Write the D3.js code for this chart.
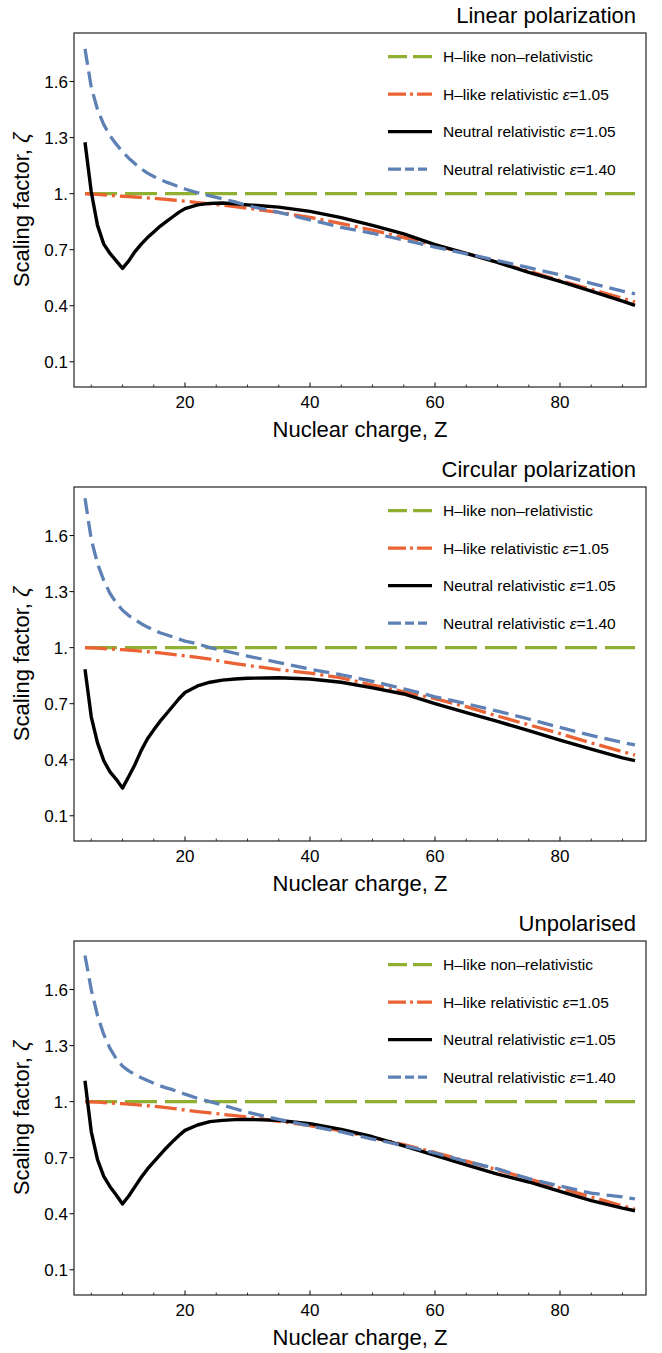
<!DOCTYPE html>
<html>
<head>
<meta charset="utf-8">
<script src="https://cdn.jsdelivr.net/npm/d3@7"></script>
<style>
  body { margin: 0; background: #fff; }
  text { font-family: "Liberation Sans", Arial, sans-serif; fill: #000; }
</style>
</head>
<body>
<div id="chart"></div>
<script>
// nuclear charge grid shared by every curve
var zGrid = [4,5,6,7,8,9,10,11,12,13,14,15,16,17,18,19,20,22,24,26,28,30,35,40,45,50,55,60,65,70,75,80,85,90,92];

var xTicks = [20,40,60,80];
var xMinorTicks = [5,10,15,25,30,35,45,50,55,65,70,75,85,90];
var yTicks = [0.1,0.4,0.7,1.0,1.3,1.6];
var yTickLabels = ["0.1","0.4","0.7","1.","1.3","1.6"];

var panelTitles = ["Linear polarization","Circular polarization","Unpolarised"];

// H-like non-relativistic (same in each panel)
var hlikeNonRel = [1,1,1,1,1,1,1,1,1,1,1,1,1,1,1,1,1,1,1,1,1,1,1,1,1,1,1,1,1,1,1,1,1,1,1];

// linear polarization
var linHlikeRel = [1.0,0.998,0.996,0.994,0.991,0.988,0.986,0.984,0.982,0.98,0.977,0.975,0.972,0.969,0.966,0.963,0.96,0.952,0.945,0.938,0.93,0.922,0.9,0.873,0.84,0.805,0.765,0.724,0.68,0.632,0.585,0.535,0.488,0.44,0.42];
var linNeutral105 = [1.275,1.01,0.83,0.73,0.68,0.64,0.60,0.64,0.69,0.73,0.765,0.795,0.825,0.85,0.875,0.9,0.92,0.94,0.948,0.95,0.945,0.94,0.928,0.905,0.872,0.83,0.785,0.727,0.68,0.632,0.578,0.53,0.478,0.425,0.402];
var linNeutral140 = [1.775,1.57,1.45,1.37,1.31,1.265,1.225,1.19,1.16,1.133,1.11,1.092,1.075,1.062,1.05,1.037,1.025,1.005,0.988,0.972,0.956,0.935,0.9,0.86,0.82,0.788,0.752,0.714,0.678,0.642,0.604,0.565,0.52,0.478,0.464];

// circular polarization
var circHlikeRel = [1.0,0.999,0.997,0.995,0.993,0.991,0.989,0.987,0.984,0.981,0.978,0.975,0.972,0.968,0.964,0.96,0.956,0.948,0.938,0.926,0.915,0.905,0.882,0.864,0.838,0.8,0.764,0.727,0.684,0.634,0.587,0.54,0.49,0.443,0.425];
var circNeutral105 = [0.884,0.63,0.49,0.395,0.335,0.295,0.248,0.31,0.375,0.45,0.512,0.56,0.605,0.645,0.685,0.725,0.76,0.795,0.815,0.826,0.832,0.836,0.839,0.832,0.815,0.785,0.752,0.7,0.652,0.605,0.556,0.505,0.457,0.41,0.395];
var circNeutral140 = [1.8,1.58,1.45,1.36,1.29,1.24,1.2,1.172,1.15,1.128,1.11,1.095,1.08,1.069,1.058,1.046,1.035,1.02,1.0,0.985,0.97,0.955,0.92,0.885,0.855,0.82,0.78,0.737,0.7,0.66,0.618,0.573,0.53,0.492,0.479];

// unpolarised
var unpHlikeRel = [1.0,0.999,0.997,0.995,0.993,0.991,0.989,0.987,0.984,0.981,0.978,0.975,0.972,0.968,0.964,0.96,0.955,0.947,0.94,0.932,0.925,0.918,0.895,0.872,0.843,0.808,0.77,0.728,0.682,0.635,0.587,0.538,0.49,0.442,0.424];
var unpNeutral105 = [1.112,0.84,0.69,0.6,0.545,0.5,0.452,0.495,0.545,0.595,0.64,0.678,0.715,0.752,0.786,0.818,0.846,0.875,0.893,0.9,0.904,0.905,0.9,0.882,0.852,0.812,0.763,0.713,0.662,0.612,0.57,0.52,0.47,0.43,0.416];
var unpNeutral140 = [1.782,1.6,1.46,1.36,1.285,1.23,1.19,1.165,1.145,1.128,1.113,1.099,1.085,1.074,1.064,1.052,1.04,1.018,1.0,0.982,0.962,0.943,0.905,0.87,0.838,0.8,0.765,0.725,0.68,0.64,0.588,0.548,0.51,0.49,0.479];

var seriesNames = ["H–like non–relativistic","H–like relativistic ","Neutral relativistic ","Neutral relativistic "];
var seriesEps = [null,"1.05","1.05","1.40"];
var seriesColors = ["#8fb032","#eb6235","#000000","#5e81b5"];
var seriesDash = ["32,8","22,5,3,5",null,"16,7"];

var panels = [
  [hlikeNonRel, linHlikeRel, linNeutral105, linNeutral140],
  [hlikeNonRel, circHlikeRel, circNeutral105, circNeutral140],
  [hlikeNonRel, unpHlikeRel, unpNeutral105, unpNeutral140]
];

var W = 662, H = 1353;
var panelH = 454;
var margin = {top: 33, right: 16, bottom: 68, left: 74};
var width = W - margin.left - margin.right,
    height = 387 - margin.top;

var svg = d3.select("#chart").append("svg")
    .attr("width", W)
    .attr("height", H);

var x = d3.scaleLinear().domain([2.24, 93.76]).range([0, width]);
var y = d3.scaleLinear().domain([-0.035, 1.86]).range([height, 0]);

svg.append("defs").append("clipPath").attr("id", "plotclip")
  .append("rect").attr("width", width).attr("height", height);

panels.forEach(function(series, p) {
  var g = svg.append("g")
      .attr("transform", "translate(" + margin.left + "," + (p * panelH + margin.top) + ")");

  // title
  g.append("text")
      .attr("x", width - 10)
      .attr("y", -10)
      .attr("text-anchor", "end")
      .style("font-size", "22px")
      .text(panelTitles[p]);

  // x ticks (inside, bottom)
  g.append("g").selectAll("line.major")
      .data(xTicks).enter().append("line")
      .attr("x1", function(d) { return x(d); }).attr("x2", function(d) { return x(d); })
      .attr("y1", height).attr("y2", height - 4.5)
      .attr("stroke", "#000").attr("stroke-width", 1);
  g.append("g").selectAll("line.minor")
      .data(xMinorTicks).enter().append("line")
      .attr("x1", function(d) { return x(d); }).attr("x2", function(d) { return x(d); })
      .attr("y1", height).attr("y2", height - 2.5)
      .attr("stroke", "#000").attr("stroke-width", 0.8);
  g.append("g").selectAll("text")
      .data(xTicks).enter().append("text")
      .attr("x", function(d) { return x(d); })
      .attr("y", height + 21)
      .attr("text-anchor", "middle")
      .style("font-size", "17px")
      .text(function(d) { return d; });

  // y ticks
  g.append("g").selectAll("line")
      .data(yTicks).enter().append("line")
      .attr("x1", -4.5).attr("x2", 0)
      .attr("y1", function(d) { return y(d); }).attr("y2", function(d) { return y(d); })
      .attr("stroke", "#000").attr("stroke-width", 1);
  g.append("g").selectAll("text")
      .data(yTicks).enter().append("text")
      .attr("x", -6)
      .attr("y", function(d) { return y(d) + 6; })
      .attr("text-anchor", "end")
      .style("font-size", "17px")
      .text(function(d, i) { return yTickLabels[i]; });

  // axis titles
  g.append("text")
      .attr("x", width / 2)
      .attr("y", height + 50)
      .attr("text-anchor", "middle")
      .style("font-size", "22px")
      .text("Nuclear charge, Z");
  var yl = g.append("text")
      .attr("transform", "translate(-45," + (height / 2) + ") rotate(-90)")
      .attr("text-anchor", "middle")
      .style("font-size", "22px");
  yl.append("tspan").text("Scaling factor, ");
  yl.append("tspan").style("font-style", "italic").text("ζ");

  // curves
  var line = d3.line()
      .x(function(d) { return x(d[0]); })
      .y(function(d) { return y(d[1]); });
  var plot = g.append("g").attr("clip-path", "url(#plotclip)");
  series.forEach(function(vals, s) {
    plot.append("path")
        .datum(zGrid.map(function(z, i) { return [z, vals[i]]; }))
        .attr("fill", "none")
        .attr("stroke", seriesColors[s])
        .attr("stroke-width", s == 2 ? 3.4 : 3.3)
        .attr("stroke-dasharray", seriesDash[s])
        .attr("stroke-linejoin", "round")
        .attr("d", line);
  });

  // legend
  var leg = g.append("g").attr("transform", "translate(" + (388 - margin.left) + ",0)");
  seriesNames.forEach(function(name, s) {
    var ly = 23.7 + s * 37.5;
    leg.append("line")
        .attr("x1", 0).attr("x2", 44)
        .attr("y1", ly).attr("y2", ly)
        .attr("stroke", seriesColors[s])
        .attr("stroke-width", 3.3)
        .attr("stroke-dasharray", s == 3 ? "13,4,9,4,9" : (s == 1 ? "18,4,3,4,15" : (s == 0 ? "19,6,19" : null)));
    var t = leg.append("text")
        .attr("x", 55)
        .attr("y", ly + 5.5)
        .style("font-size", "15.5px");
    t.append("tspan").text(name);
    if (seriesEps[s]) {
      t.append("tspan").style("font-style", "italic").text("ε");
      t.append("tspan").text("=" + seriesEps[s]);
    }
  });

  // frame
  g.append("rect")
      .attr("width", width).attr("height", height)
      .attr("fill", "none")
      .attr("stroke", "#222")
      .attr("stroke-width", 1.2);
});
</script>
</body>
</html>
